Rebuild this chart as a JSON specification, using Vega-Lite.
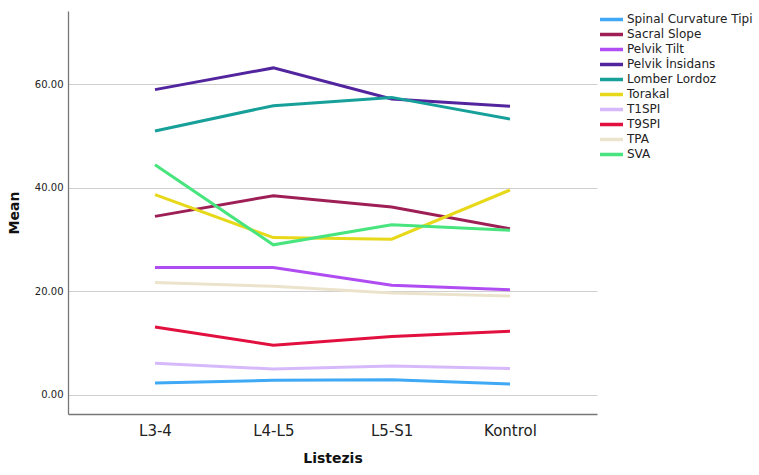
{
  "$schema": "https://vega.github.io/schema/vega-lite/v6.json",
  "width": 529,
  "height": 403,
  "autosize": {"type": "none"},
  "padding": {"left": 68, "top": 11, "right": 162, "bottom": 61},
  "background": "white",
  "config": {
    "font": "DejaVu Sans",
    "view": {"stroke": null},
    "axis": {"labelColor": "#222", "titleColor": "#111"}
  },
  "data": {
    "values": [
      {"Listezis": "L3-4", "Olcum": "Spinal Curvature Tipi", "Mean": 2.3},
      {"Listezis": "L4-L5", "Olcum": "Spinal Curvature Tipi", "Mean": 2.8},
      {"Listezis": "L5-S1", "Olcum": "Spinal Curvature Tipi", "Mean": 2.9},
      {"Listezis": "Kontrol", "Olcum": "Spinal Curvature Tipi", "Mean": 2.1},
      {"Listezis": "L3-4", "Olcum": "Sacral Slope", "Mean": 34.5},
      {"Listezis": "L4-L5", "Olcum": "Sacral Slope", "Mean": 38.5},
      {"Listezis": "L5-S1", "Olcum": "Sacral Slope", "Mean": 36.3},
      {"Listezis": "Kontrol", "Olcum": "Sacral Slope", "Mean": 32.1},
      {"Listezis": "L3-4", "Olcum": "Pelvik Tilt", "Mean": 24.6},
      {"Listezis": "L4-L5", "Olcum": "Pelvik Tilt", "Mean": 24.6},
      {"Listezis": "L5-S1", "Olcum": "Pelvik Tilt", "Mean": 21.2},
      {"Listezis": "Kontrol", "Olcum": "Pelvik Tilt", "Mean": 20.3},
      {"Listezis": "L3-4", "Olcum": "Pelvik İnsidans", "Mean": 59.0},
      {"Listezis": "L4-L5", "Olcum": "Pelvik İnsidans", "Mean": 63.2},
      {"Listezis": "L5-S1", "Olcum": "Pelvik İnsidans", "Mean": 57.2},
      {"Listezis": "Kontrol", "Olcum": "Pelvik İnsidans", "Mean": 55.8},
      {"Listezis": "L3-4", "Olcum": "Lomber Lordoz", "Mean": 51.0},
      {"Listezis": "L4-L5", "Olcum": "Lomber Lordoz", "Mean": 55.9},
      {"Listezis": "L5-S1", "Olcum": "Lomber Lordoz", "Mean": 57.5},
      {"Listezis": "Kontrol", "Olcum": "Lomber Lordoz", "Mean": 53.3},
      {"Listezis": "L3-4", "Olcum": "Torakal", "Mean": 38.7},
      {"Listezis": "L4-L5", "Olcum": "Torakal", "Mean": 30.4},
      {"Listezis": "L5-S1", "Olcum": "Torakal", "Mean": 30.1},
      {"Listezis": "Kontrol", "Olcum": "Torakal", "Mean": 39.6},
      {"Listezis": "L3-4", "Olcum": "T1SPI", "Mean": 6.1},
      {"Listezis": "L4-L5", "Olcum": "T1SPI", "Mean": 5.0},
      {"Listezis": "L5-S1", "Olcum": "T1SPI", "Mean": 5.6},
      {"Listezis": "Kontrol", "Olcum": "T1SPI", "Mean": 5.1},
      {"Listezis": "L3-4", "Olcum": "T9SPI", "Mean": 13.1},
      {"Listezis": "L4-L5", "Olcum": "T9SPI", "Mean": 9.6},
      {"Listezis": "L5-S1", "Olcum": "T9SPI", "Mean": 11.3},
      {"Listezis": "Kontrol", "Olcum": "T9SPI", "Mean": 12.3},
      {"Listezis": "L3-4", "Olcum": "TPA", "Mean": 21.7},
      {"Listezis": "L4-L5", "Olcum": "TPA", "Mean": 21.0},
      {"Listezis": "L5-S1", "Olcum": "TPA", "Mean": 19.7},
      {"Listezis": "Kontrol", "Olcum": "TPA", "Mean": 19.1},
      {"Listezis": "L3-4", "Olcum": "SVA", "Mean": 44.5},
      {"Listezis": "L4-L5", "Olcum": "SVA", "Mean": 29.0},
      {"Listezis": "L5-S1", "Olcum": "SVA", "Mean": 32.9},
      {"Listezis": "Kontrol", "Olcum": "SVA", "Mean": 31.8}
    ]
  },
  "mark": {"type": "line", "strokeWidth": 3},
  "encoding": {
    "x": {
      "field": "Listezis",
      "type": "ordinal",
      "sort": ["L3-4", "L4-L5", "L5-S1", "Kontrol"],
      "scale": {"type": "point", "padding": 0.735},
      "axis": {
        "title": "Listezis",
        "labelAngle": 0,
        "labelFontSize": 15,
        "labelPadding": 9,
        "ticks": false,
        "grid": false,
        "domainColor": "#777",
        "domainWidth": 1.3,
        "titleFontSize": 14,
        "titleFontWeight": "bold",
        "titlePadding": 13
      }
    },
    "y": {
      "field": "Mean",
      "type": "quantitative",
      "scale": {"domain": [-3.7, 74.2], "nice": false, "zero": false},
      "axis": {
        "title": "Mean",
        "values": [0, 20, 40, 60],
        "format": ".2f",
        "labelFontSize": 10,
        "labelPadding": 5,
        "ticks": false,
        "grid": true,
        "gridColor": "#cfcfcf",
        "gridWidth": 1.2,
        "domainColor": "#777",
        "domainWidth": 1.3,
        "titleFontSize": 14,
        "titleFontWeight": "bold",
        "titlePadding": 13
      }
    },
    "color": {
      "field": "Olcum",
      "type": "nominal",
      "scale": {
        "domain": ["Spinal Curvature Tipi", "Sacral Slope", "Pelvik Tilt", "Pelvik İnsidans", "Lomber Lordoz", "Torakal", "T1SPI", "T9SPI", "TPA", "SVA"],
        "range": ["#3fa9f5", "#9e1f56", "#b04df2", "#52259e", "#17a09a", "#e8d81a", "#d6b9fa", "#e2103e", "#ebe3cc", "#48e47e"]
      },
      "legend": {
        "title": null,
        "orient": "none",
        "legendX": 530,
        "legendY": 1,
        "symbolType": "stroke",
        "symbolSize": 529,
        "symbolStrokeWidth": 3.5,
        "labelFontSize": 12,
        "labelColor": "#222",
        "labelOffset": 2,
        "clipHeight": 14.8,
        "rowPadding": 0
      }
    }
  }
}
